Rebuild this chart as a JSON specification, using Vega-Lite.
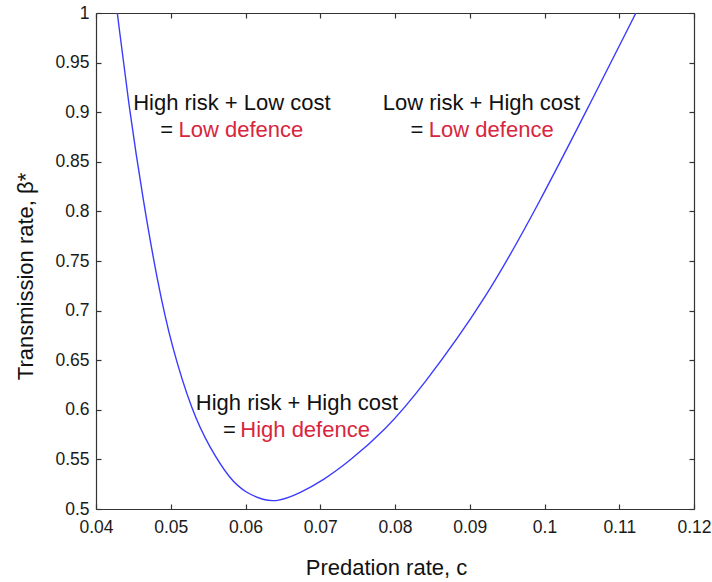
{
  "$schema": "https://vega.github.io/schema/vega-lite/v6.json",
  "width": 598,
  "height": 496,
  "autosize": "none",
  "padding": {"left": 96, "top": 13, "right": 18, "bottom": 73},
  "background": "white",
  "config": {
    "font": "Liberation Sans",
    "view": {"stroke": null},
    "axis": {
      "grid": false,
      "domainColor": "#333333",
      "domainWidth": 1.2,
      "tickColor": "#333333",
      "tickWidth": 1.2,
      "tickSize": -5,
      "labelFont": "Liberation Sans",
      "labelFontSize": 17.5,
      "labelColor": "#1a1a1a",
      "labelFlush": false,
      "labelOverlap": false,
      "titleFont": "Liberation Sans",
      "titleFontSize": 22,
      "titleFontWeight": "normal",
      "titleColor": "#111111"
    }
  },
  "datasets": {
    "curve": [
      {"c": 0.04285, "beta": 1.0},
      {"c": 0.0445, "beta": 0.9002},
      {"c": 0.0463, "beta": 0.8115},
      {"c": 0.04817, "beta": 0.7308},
      {"c": 0.05012, "beta": 0.6636},
      {"c": 0.05293, "beta": 0.5968},
      {"c": 0.05514, "beta": 0.5628},
      {"c": 0.05796, "beta": 0.5292},
      {"c": 0.06019, "beta": 0.5158},
      {"c": 0.06238, "beta": 0.509},
      {"c": 0.06425, "beta": 0.5072},
      {"c": 0.06734, "beta": 0.5161},
      {"c": 0.07042, "beta": 0.5292},
      {"c": 0.07363, "beta": 0.5464},
      {"c": 0.07873, "beta": 0.5796},
      {"c": 0.08355, "beta": 0.622},
      {"c": 0.09213, "beta": 0.7107},
      {"c": 0.0995, "beta": 0.8115},
      {"c": 0.10553, "beta": 0.9002},
      {"c": 0.11223, "beta": 1.0}
    ],
    "headline": [
      {"c": 0.05818, "beta": 0.9093, "label": "High risk + Low cost"},
      {"c": 0.09157, "beta": 0.9093, "label": "Low risk + High cost"},
      {"c": 0.06689, "beta": 0.6065, "label": "High risk + High cost"}
    ],
    "equals": [
      {"c": 0.04858, "beta": 0.8821, "label": "="},
      {"c": 0.08208, "beta": 0.8821, "label": "="},
      {"c": 0.05698, "beta": 0.5796, "label": "="}
    ],
    "outcome": [
      {"c": 0.05103, "beta": 0.8821, "label": "Low defence"},
      {"c": 0.08453, "beta": 0.8821, "label": "Low defence"},
      {"c": 0.0593, "beta": 0.5796, "label": "High defence"}
    ]
  },
  "layer": [
    {
      "data": {"name": "curve"},
      "mark": {"type": "line", "color": "#3b3bff", "strokeWidth": 1.4, "interpolate": "basis", "clip": true},
      "encoding": {
        "x": {
          "field": "c", "type": "quantitative",
          "scale": {"domain": [0.04, 0.12], "nice": false, "zero": false},
          "axis": {
            "orient": "bottom",
            "title": "Predation rate, c",
            "values": [0.04, 0.05, 0.06, 0.07, 0.08, 0.09, 0.1, 0.11, 0.12],
            "format": "~g",
            "labelPadding": 14,
            "titleX": 290,
            "titleY": 58,
            "titleBaseline": "middle",
            "titleAnchor": "middle"
          }
        },
        "y": {
          "field": "beta", "type": "quantitative",
          "scale": {"domain": [0.5, 1], "nice": false, "zero": false},
          "axis": {
            "orient": "left",
            "title": "Transmission rate, β*",
            "values": [0.5, 0.55, 0.6, 0.65, 0.7, 0.75, 0.8, 0.85, 0.9, 0.95, 1],
            "format": "~g",
            "labelPadding": 12,
            "titleX": -71,
            "titleY": 263,
            "titleAngle": -90,
            "titleBaseline": "middle",
            "titleAnchor": "middle"
          }
        }
      }
    },
    {
      "data": {"name": "headline"},
      "mark": {"type": "text", "align": "center", "baseline": "middle", "fontSize": 22, "font": "Liberation Sans", "color": "#111111"},
      "encoding": {
        "x": {
          "field": "c", "type": "quantitative",
          "axis": {
            "orient": "top", "title": null, "labels": false,
            "values": [0.04, 0.05, 0.06, 0.07, 0.08, 0.09, 0.1, 0.11, 0.12]
          }
        },
        "y": {
          "field": "beta", "type": "quantitative",
          "axis": {
            "orient": "right", "title": null, "labels": false,
            "values": [0.5, 0.55, 0.6, 0.65, 0.7, 0.75, 0.8, 0.85, 0.9, 0.95, 1]
          }
        },
        "text": {"field": "label"}
      }
    },
    {
      "data": {"name": "equals"},
      "mark": {"type": "text", "align": "left", "baseline": "middle", "fontSize": 22, "font": "Liberation Sans", "color": "#111111"},
      "encoding": {
        "x": {"field": "c", "type": "quantitative", "axis": null},
        "y": {"field": "beta", "type": "quantitative", "axis": null},
        "text": {"field": "label"}
      }
    },
    {
      "data": {"name": "outcome"},
      "mark": {"type": "text", "align": "left", "baseline": "middle", "fontSize": 22, "font": "Liberation Sans", "color": "#d7263d"},
      "encoding": {
        "x": {"field": "c", "type": "quantitative", "axis": null},
        "y": {"field": "beta", "type": "quantitative", "axis": null},
        "text": {"field": "label"}
      }
    }
  ],
  "resolve": {"axis": {"x": "independent", "y": "independent"}}
}
